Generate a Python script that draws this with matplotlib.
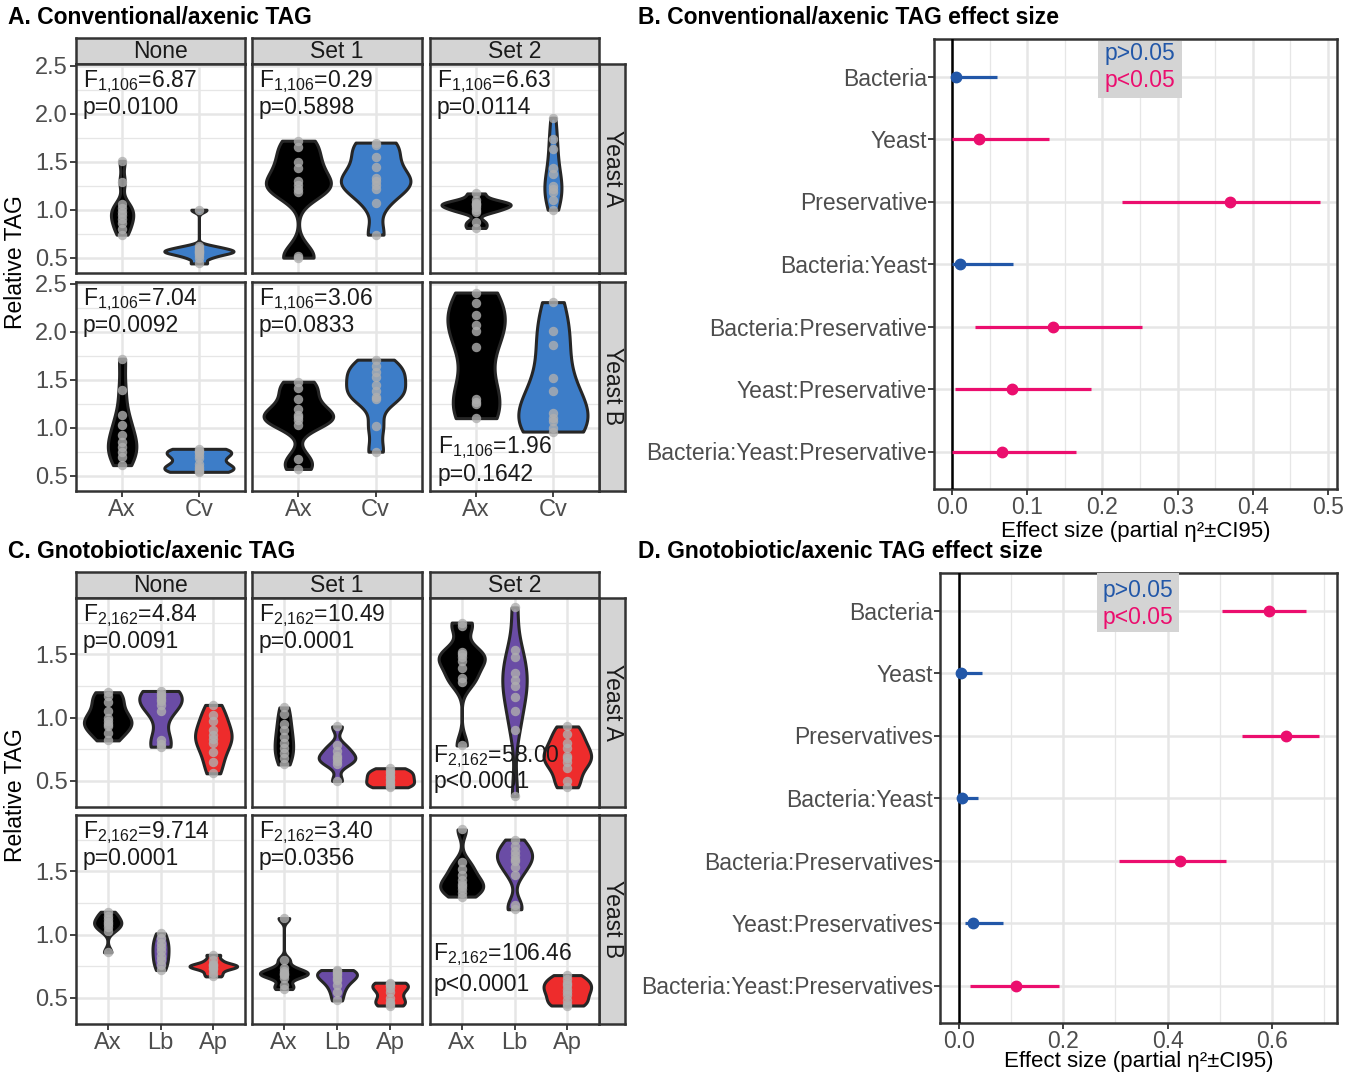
import numpy as np
import matplotlib.pyplot as plt
from matplotlib.patches import Rectangle

plt.rcParams['font.family'] = ['Liberation Sans', 'DejaVu Sans']
plt.rcParams['mathtext.fontset'] = 'custom'
plt.rcParams['mathtext.rm'] = 'Liberation Sans'
plt.rcParams['mathtext.it'] = 'Liberation Sans'

W, H = 1360, 1075

# ---------------- data ----------------
presv = ['None', 'Set 1', 'Set 2']
yeasts = ['Yeast A', 'Yeast B']
conv_groups = ['Ax', 'Cv']
gnoto_groups = ['Ax', 'Lb', 'Ap']

# A. conventional / axenic relative TAG (points per violin)
a_ya_none = {'Ax': [1.51, 1.29, 1.06, 1.02, 0.98, 0.94, 0.90, 0.86, 0.80, 0.74],
             'Cv': [1.00, 0.62, 0.60, 0.58, 0.57, 0.56, 0.55, 0.53, 0.50, 0.44]}
a_ya_set1 = {'Ax': [1.72, 1.65, 1.50, 1.44, 1.30, 1.26, 1.22, 1.18, 0.52, 0.50],
             'Cv': [1.70, 1.68, 1.55, 1.45, 1.33, 1.30, 1.26, 1.22, 1.07, 0.74]}
a_ya_set2 = {'Ax': [1.17, 1.10, 1.07, 1.06, 1.05, 1.03, 1.00, 0.98, 0.87, 0.81],
             'Cv': [1.96, 1.74, 1.63, 1.44, 1.37, 1.25, 1.22, 1.18, 1.10, 1.00]}
a_yb_none = {'Ax': [1.72, 1.39, 1.13, 1.03, 0.92, 0.85, 0.80, 0.75, 0.69, 0.61],
             'Cv': [0.78, 0.76, 0.75, 0.72, 0.68, 0.62, 0.59, 0.57, 0.55, 0.54]}
a_yb_set1 = {'Ax': [1.48, 1.41, 1.30, 1.20, 1.13, 1.11, 1.08, 1.03, 0.67, 0.57],
             'Cv': [1.71, 1.64, 1.58, 1.53, 1.45, 1.38, 1.32, 1.30, 1.02, 0.75]}
a_yb_set2 = {'Ax': [2.41, 2.30, 2.18, 2.07, 2.01, 1.84, 1.30, 1.27, 1.25, 1.10],
             'Cv': [2.31, 2.01, 1.86, 1.52, 1.38, 1.15, 1.10, 1.07, 1.00, 0.96]}

a_fvals = [['6.87', '0.29', '6.63'], ['7.04', '3.06', '1.96']]
a_pvals = [['p=0.0100', 'p=0.5898', 'p=0.0114'], ['p=0.0092', 'p=0.0833', 'p=0.1642']]

# C. gnotobiotic / axenic relative TAG
c_ya_none = {'Ax': [1.20, 1.17, 1.12, 1.05, 1.00, 0.97, 0.95, 0.93, 0.88, 0.82],
             'Lb': [1.21, 1.19, 1.17, 1.15, 1.13, 1.10, 1.05, 0.82, 0.79, 0.77],
             'Ap': [1.10, 1.02, 0.97, 0.90, 0.86, 0.83, 0.80, 0.73, 0.65, 0.56]}
c_ya_set1 = {'Ax': [1.08, 1.03, 0.95, 0.90, 0.85, 0.80, 0.76, 0.72, 0.68, 0.63],
             'Lb': [0.93, 0.78, 0.74, 0.70, 0.68, 0.66, 0.63, 0.50],
             'Ap': [0.60, 0.58, 0.56, 0.54, 0.52, 0.50, 0.48, 0.46, 0.45]}
c_ya_set2 = {'Ax': [1.75, 1.72, 1.52, 1.50, 1.48, 1.45, 1.39, 1.31, 1.28, 0.78],
             'Lb': [1.87, 1.53, 1.48, 1.35, 1.30, 1.25, 1.16, 1.05, 0.90, 0.38],
             'Ap': [0.93, 0.87, 0.80, 0.76, 0.70, 0.68, 0.65, 0.60, 0.50, 0.45]}
c_yb_none = {'Ax': [1.18, 1.15, 1.12, 1.10, 1.08, 1.06, 1.03, 0.86],
             'Lb': [1.01, 0.97, 0.93, 0.90, 0.87, 0.83, 0.80, 0.76, 0.72],
             'Ap': [0.84, 0.80, 0.77, 0.76, 0.75, 0.74, 0.73, 0.70, 0.67]}
c_yb_set1 = {'Ax': [1.13, 0.80, 0.74, 0.71, 0.70, 0.69, 0.68, 0.66, 0.60, 0.57],
             'Lb': [0.72, 0.71, 0.70, 0.68, 0.66, 0.64, 0.60, 0.55, 0.48],
             'Ap': [0.62, 0.61, 0.60, 0.58, 0.55, 0.50, 0.47, 0.45, 0.44]}
c_yb_set2 = {'Ax': [1.83, 1.57, 1.52, 1.47, 1.43, 1.40, 1.38, 1.36, 1.33, 1.30],
             'Lb': [1.75, 1.70, 1.66, 1.63, 1.60, 1.58, 1.53, 1.47, 1.23, 1.20],
             'Ap': [0.68, 0.65, 0.62, 0.60, 0.57, 0.55, 0.52, 0.48, 0.45, 0.44]}

c_fvals = [['4.84', '10.49', '58.00'], ['9.714', '3.40', '106.46']]
c_pvals = [['p=0.0091', 'p=0.0001', 'p<0.0001'], ['p=0.0001', 'p=0.0356', 'p<0.0001']]

# B. effect sizes (partial eta^2, CI95)
b_terms = ['Bacteria', 'Yeast', 'Preservative', 'Bacteria:Yeast',
           'Bacteria:Preservative', 'Yeast:Preservative', 'Bacteria:Yeast:Preservative']
b_eta = [0.005, 0.036, 0.370, 0.011, 0.134, 0.080, 0.066]
b_lo = [0.0, 0.0, 0.226, 0.0, 0.031, 0.004, 0.0]
b_hi = [0.060, 0.129, 0.489, 0.081, 0.253, 0.185, 0.165]
b_sig = [False, True, True, False, True, True, True]

# D. effect sizes
d_terms = ['Bacteria', 'Yeast', 'Preservatives', 'Bacteria:Yeast',
           'Bacteria:Preservatives', 'Yeast:Preservatives', 'Bacteria:Yeast:Preservatives']
d_eta = [0.595, 0.005, 0.627, 0.006, 0.424, 0.027, 0.110]
d_lo = [0.504, 0.0, 0.542, 0.0, 0.307, 0.012, 0.022]
d_hi = [0.665, 0.045, 0.690, 0.036, 0.512, 0.085, 0.192]
d_sig = [True, False, True, False, True, False, True]

# ---------------- style ----------------
fill = {'Ax': '#000000', 'Cv': '#3D7DC8', 'Lb': '#6A4CA5', 'Ap': '#EE2C2C'}
blue, pink = '#2257A8', '#EB0E6E'
border = '#333333'
tickc = '#4D4D4D'
gridc = '#E6E6E6'
fs = 16.5

fig = plt.figure(figsize=(W / 100, H / 100), dpi=100)


def px_axes(x0, x1, y0, y1):
    return fig.add_axes([x0 / W, 1 - y1 / H, (x1 - x0) / W, (y1 - y0) / H])


def frame(ax):
    for s in ax.spines.values():
        s.set_color(border)
        s.set_linewidth(1.8)


def strip(x0, x1, y0, y1, label, rot=0):
    ax = px_axes(x0, x1, y0, y1)
    ax.set_facecolor('#D4D4D4')
    ax.set_xticks([])
    ax.set_yticks([])
    frame(ax)
    ax.text(0.5, 0.5, label, transform=ax.transAxes, ha='center', va='center',
            fontsize=fs, color='#1A1A1A', rotation=rot)


def kde(vals, grid):
    x = np.asarray(vals, float)
    n = len(x)
    sd = x.std(ddof=1)
    q75, q25 = np.percentile(x, [75, 25])
    lo = min(sd, (q75 - q25) / 1.34) if q75 > q25 else sd
    bw = 0.9 * lo * n ** -0.2
    z = (grid[:, None] - x[None, :]) / bw
    return np.exp(-0.5 * z ** 2).sum(1) / (n * bw * np.sqrt(2 * np.pi))


def violins(ax, facet, groups):
    curves = []
    for g in groups:
        v = np.asarray(facet[g])
        y = np.linspace(v.min(), v.max(), 512)
        curves.append((y, kde(v, y)))
    dmax = max(d.max() for _, d in curves)
    for i, g in enumerate(groups):
        y, d = curves[i]
        w = 0.45 * d / dmax
        ax.fill_betweenx(y, i - w, i + w, facecolor=fill[g], edgecolor='#262626',
                         linewidth=2.2, zorder=3)
        ax.scatter(np.full(len(facet[g]), i), facet[g], s=46, color='#AFAFAF',
                   alpha=0.8, linewidths=0, zorder=4)


def violin_grid(facets, groups, fvals, pvals, sub, rows, strip_y, ylim,
                yticks, yminor, text_pos, ylab_y):
    cols = [(76, 245), (252, 422), (430, 599)]
    for c, (x0, x1) in enumerate(cols):
        strip(x0, x1, strip_y[0], strip_y[1], presv[c])
    for r, (y0, y1) in enumerate(rows):
        strip(599, 625, y0, y1, yeasts[r], rot=270)
        for c, (x0, x1) in enumerate(cols):
            ax = px_axes(x0, x1, y0, y1)
            violins(ax, facets[r][c], groups)
            ax.set_xlim(-0.6, len(groups) - 0.4)
            ax.set_ylim(*ylim)
            ax.set_xticks(range(len(groups)))
            ax.set_xticklabels(groups)
            ax.set_yticks(yticks)
            ax.set_yticks(yminor, minor=True)
            ax.set_yticklabels([f'{t:.1f}' for t in yticks])
            ax.grid(which='major', color=gridc, linewidth=1.8, zorder=0)
            ax.grid(which='minor', axis='y', color=gridc, linewidth=0.9, zorder=0)
            ax.set_axisbelow(True)
            ax.tick_params(which='minor', length=0)
            ax.tick_params(which='major', length=4, width=1.3, color=border,
                           labelcolor=tickc, labelsize=fs + 0.5, pad=2)
            ax.tick_params(axis='y', left=(c == 0), labelleft=(c == 0))
            ax.tick_params(axis='x', bottom=(r == len(rows) - 1),
                           labelbottom=(r == len(rows) - 1))
            frame(ax)
            tx, fy, py = text_pos[r][c]
            ax.text(tx, fy, 'F$_{\\mathrm{' + sub + '}}$=' + fvals[r][c],
                    transform=ax.transAxes, ha='left', va='center',
                    fontsize=fs, color='#1A1A1A', zorder=5)
            ax.text(tx, py, pvals[r][c], transform=ax.transAxes, ha='left',
                    va='center', fontsize=fs, color='#1A1A1A', zorder=5)
    fig.text(15 / W, 1 - ylab_y / H, 'Relative TAG', rotation=90, ha='center',
             va='center', fontsize=fs)


def effect_panel(box, xlim, xmaj, xmin, terms, eta, lo, hi, sig, legbox, xlab_y):
    ax = px_axes(*box)
    ypos = np.arange(len(terms))
    for y, e, l, h, s in zip(ypos, eta, lo, hi, sig):
        col = pink if s else blue
        ax.hlines(y, l, h, color=col, linewidth=2.3, zorder=4)
        ax.plot(e, y, 'o', color=col, markersize=7.5, zorder=5)
    ax.axvline(0, color='black', linewidth=1.8, zorder=3)
    ax.set_xlim(*xlim)
    ax.set_ylim(len(terms) - 0.4, -0.6)
    ax.set_yticks(ypos)
    ax.set_yticklabels(terms)
    ax.set_xticks(xmaj)
    ax.set_xticklabels([f'{t:.1f}' for t in xmaj])
    ax.set_xticks(xmin, minor=True)
    ax.grid(which='major', color=gridc, linewidth=1.8, zorder=0)
    ax.grid(which='minor', axis='x', color=gridc, linewidth=0.9, zorder=0)
    ax.set_axisbelow(True)
    ax.tick_params(which='minor', length=0)
    ax.tick_params(which='major', length=4, width=1.3, color=border,
                   labelcolor=tickc, labelsize=fs, pad=1)
    frame(ax)
    fig.text((box[0] + box[1]) / 2 / W, 1 - xlab_y / H, 'Effect size (partial η²±CI95)',
             fontsize=fs - 0.5, ha='center', va='center')
    bx0, bx1, by0, by1, t1, t2 = legbox
    ax.add_patch(Rectangle((bx0, by0), bx1 - bx0, by1 - by0, transform=ax.transAxes,
                           facecolor='#D4D4D4', edgecolor='none', zorder=6))
    ax.text((bx0 + bx1) / 2, t1, 'p>0.05', color=blue, transform=ax.transAxes,
            ha='center', va='center', fontsize=fs, zorder=7)
    ax.text((bx0 + bx1) / 2, t2, 'p<0.05', color=pink, transform=ax.transAxes,
            ha='center', va='center', fontsize=fs, zorder=7)


# A
top = (0.041, 0.914, 0.79)
violin_grid([[a_ya_none, a_ya_set1, a_ya_set2], [a_yb_none, a_yb_set1, a_yb_set2]],
            conv_groups, a_fvals, a_pvals, '1{,}106',
            rows=[(64, 273), (282, 491)], strip_y=(38, 64), ylim=(0.34, 2.52),
            yticks=[0.5, 1.0, 1.5, 2.0, 2.5], yminor=[0.75, 1.25, 1.75, 2.25],
            text_pos=[[top] * 3, [top, top, (0.047, 0.21, 0.081)]],
            ylab_y=262)

# C
violin_grid([[c_ya_none, c_ya_set1, c_ya_set2], [c_yb_none, c_yb_set1, c_yb_set2]],
            gnoto_groups, c_fvals, c_pvals, '2{,}162',
            rows=[(598, 807), (815, 1024)], strip_y=(572, 598), ylim=(0.294, 1.944),
            yticks=[0.5, 1.0, 1.5], yminor=[0.75, 1.25, 1.75],
            text_pos=[[top, top, (0.02, 0.24, 0.12)],
                      [top, top, (0.02, 0.33, 0.19)]],
            ylab_y=795)

# B
effect_panel((934, 1337, 39, 489), (-0.024, 0.512), np.arange(0, 0.51, 0.1),
             np.arange(0.05, 0.51, 0.1), b_terms, b_eta, b_lo, b_hi, b_sig,
             (0.407, 0.615, 0.869, 0.995, 0.967, 0.907), xlab_y=531)
# D
effect_panel((940, 1337, 573, 1023), (-0.036, 0.7245), [0.0, 0.2, 0.4, 0.6],
             [0.1, 0.3, 0.5, 0.7], d_terms, d_eta, d_lo, d_hi, d_sig,
             (0.395, 0.602, 0.869, 1.0, 0.961, 0.902), xlab_y=1062)

for x, y, t in [(8, 18, 'A. Conventional/axenic TAG'),
                (638, 18, 'B. Conventional/axenic TAG effect size'),
                (8, 552, 'C. Gnotobiotic/axenic TAG'),
                (638, 552, 'D. Gnotobiotic/axenic TAG effect size')]:
    fig.text(x / W, 1 - y / H, t, fontsize=fs, fontweight='bold', ha='left', va='center')

fig.savefig('out.png', dpi=100)
